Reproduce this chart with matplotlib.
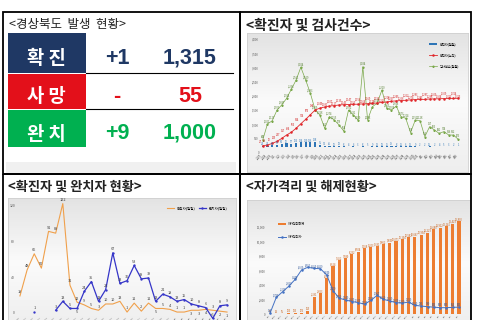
import numpy as np
import matplotlib
matplotlib.use('Agg')
from matplotlib import pyplot as plt
from matplotlib.patches import Rectangle
from matplotlib.colors import LinearSegmentedColormap

plt.rcParams['font.family'] = ['Noto Sans CJK KR', 'DejaVu Sans']

# ---- status table (top left)
status_names = ['확 진', '사 망', '완 치']
status_change = ['+1', '-', '+9']
status_total = ['1,315', '55', '1,000']
status_colors = ['#1f3864', '#e3101a', '#00b050']

# ---- dates
dates = ('2/27 2/28 2/29 3/1 3/2 3/3 3/4 3/5 3/6 3/7 3/8 3/9 3/10 3/11 3/12 3/13 '
         '3/14 3/15 3/16 3/17 3/18 3/19 3/20 3/21 3/22 3/23 3/24 3/25 3/26 3/27 '
         '3/28 3/29 3/30 3/31 4/1 4/2 4/3 4/4 4/5 4/6 4/7 4/8').split()

# ---- confirmed and tests (top right)
daily_tests = [445, 1012, 1127, 1503, 1687, 1914, 2236, 2561, 3014, 2569,
               2093, 1509, 1328, 861, 1274, 1155, 979, 764, 1502, 1331,
               1150, 3034, 1158, 1622, 1745, 2210, 1563, 1504, 1646, 1273,
               1214, 708, 1152, 1128, 566, 917, 803, 681, 744, 626,
               622, 473]
cum_confirmed = [27, 45, 90, 145, 227, 317, 394, 500, 624, 744,
                 870, 998, 1049, 1081, 1107, 1117, 1135, 1143, 1147, 1153,
                 1156, 1164, 1169, 1178, 1190, 1203, 1218, 1237, 1245, 1256,
                 1262, 1274, 1283, 1285, 1287, 1298, 1300, 1304, 1309, 1312,
                 1314, 1315]
daily_confirmed = [23, 22, 45, 55, 82, 90, 77, 106, 124, 120,
                   126, 128, 51, 32, 26, 10, 18, 8, 4, 6,
                   3, 8, 5, 9, 12, 13, 15, 19, 8, 11,
                   6, 12, 9, 2, 2, 11, 2, 4, 5, 3,
                   2, 1]

# ---- new vs recovered (bottom left)
daily_new = [19, 48, 66, 50, 91, 89, 122, 31, 12, 9,
             5, 3, 10, 10, 13, 1, 11, 2, 11, 5,
             5, 4, 1, 1, 3, 3, 4, 3, 2, 1]
daily_recovered = [np.nan, np.nan, 1, np.nan, np.nan, 3, 13, 5, 5, 24,
                   35, 13, 26, 67, 33, 36, 53, 38, 39, 13,
                   21, 18, 13, 15, 10, 8, 6, -6, 8, 9]

# ---- self quarantine (bottom right)
released = [53, 52, 56, 103, 133, 173, 365, 2391, 2853, 4917,
            6624, 7452, 7680, 8232, 8604, 9058, 9203, 9381, 9662, 9843,
            10071, 10304, 10582, 10667, 10954, 11223, 11680, 11912, 12141, 12423,
            12830]
quarantined = [315, 1780, 2300, 2820, 3440, 4300, 4553, 4450, 4420, 3840,
               2400, 1700, 1540, 1400, 1300, 1150, 1500, 1967, 1600, 1450,
               1300, 1250, 1350, 1050, 980, 920, 880, 830, 830, 860,
               880]

W, H = 480, 320
fig = plt.figure(figsize=(W / 100, H / 100), dpi=100)


def px_axes(x0, y0, x1, y1):
    return fig.add_axes([x0 / W, 1 - y1 / H, (x1 - x0) / W, (y1 - y0) / H])


bg_cmap = LinearSegmentedColormap.from_list('bg', ['#e3e3e3', '#fbfbfb', '#eeeeee'])
grad = np.linspace(0, 1, 64)[:, None]


def chart_box(x0, y0, x1, y1):
    b = px_axes(x0, y0, x1, y1)
    b.imshow(grad, aspect='auto', cmap=bg_cmap, extent=(0, 1, 0, 1))
    b.set_xticks([])
    b.set_yticks([])
    for s in b.spines.values():
        s.set_color('#cfcfcf')
        s.set_linewidth(0.6)


def clean(ax):
    ax.patch.set_alpha(0)
    for s in ax.spines.values():
        s.set_visible(False)
    ax.tick_params(length=0, labelsize=2, colors='#595959', pad=1)
    ax.tick_params(axis='x', labelsize=1.6, colors='#404040', pad=0.5)


# ================= top right =================
chart_box(247, 33, 468, 172)
ax = px_axes(260.3, 39.3, 460.6, 152.7)
x = np.arange(len(dates))
ax.set_xlim(-0.5, len(dates) - 0.5)
ax.set_ylim(0, 4000)
ax.set_yticks(range(0, 4001, 500))
ax.set_yticklabels(['{:,}'.format(v) for v in range(0, 4001, 500)])
ax.set_xticks(x)
ax.set_xticklabels(dates, rotation=45, ha='right')
clean(ax)
ax.tick_params(axis='x', labelsize=2.2, colors='#303030')
ax2 = ax.twinx()
ax2.set_ylim(-163, 2921)
ax2.set_yticks([])
clean(ax2)
b1 = ax2.bar(x, daily_confirmed, width=0.45, color='#2e75b6', label='확진자(일일)')
l1, = ax2.plot(x, cum_confirmed, color='#e0262a', lw=0.6, marker='o', ms=0.8, label='확진자(누적)')
l2, = ax.plot(x, daily_tests, color='#7aa84a', lw=0.5, marker='^', ms=0.9, label='검사건수(일일)')
for i in x:
    ax.text(i, daily_tests[i] + 70, '{:,}'.format(daily_tests[i]), fontsize=1.8, color='#4f7a2a', ha='center')
    if i < 12:
        ax2.text(i - 0.3, cum_confirmed[i] + 70, '{:,}'.format(cum_confirmed[i]), fontsize=1.8,
                 color='#d01818', ha='right')
    elif i % 2 == 0:
        ax2.text(i, cum_confirmed[i] + 110, '{:,}'.format(cum_confirmed[i]), fontsize=1.8,
                 color='#d01818', ha='center')
    else:
        ax2.text(i, cum_confirmed[i] + 40, '{:,}'.format(cum_confirmed[i]), fontsize=1.8,
                 color='#d01818', ha='center')
    ax2.text(i, daily_confirmed[i] + 15, str(daily_confirmed[i]), fontsize=1.8, color='#2e75b6', ha='center')
ax2.legend([b1, l1, l2], ['확진자(일일)', '확진자(누적)', '검사건수(일일)'], loc='upper left',
           bbox_to_anchor=(0.83, 1.0), fontsize=2.3, frameon=False, handlelength=2.5,
           labelspacing=2.2)

# ================= bottom left =================
chart_box(8, 198, 236, 326)
ax = px_axes(16.4, 200, 230.6, 316)
x = np.arange(len(daily_new))
ax.set_xlim(-0.5, len(daily_new) - 0.5)
ax.set_ylim(-3.4, 126)
ax.set_yticks([0, 40, 80, 120])
ax.set_xticks(x)
ax.set_xticklabels(dates[12:], rotation=45, ha='right')
clean(ax)
ax.tick_params(axis='y', labelsize=2.5)
ax.plot(x, daily_new, color='#f0a04b', lw=0.8, label='확진자(일일)', clip_on=False)
ax.plot(x, daily_recovered, color='#3535c8', lw=0.9, marker='o', ms=0.7, label='완치자(일일)',
        clip_on=False)
for i in x:
    rec = daily_recovered[i]
    close = (not np.isnan(rec)) and abs(rec - daily_new[i]) < 9
    if close and daily_new[i] <= rec:
        ax.text(i, daily_new[i] - 2, str(daily_new[i]), fontsize=2.8, color='#404040',
                ha='center', va='top')
    else:
        ax.text(i, daily_new[i] + 3, str(daily_new[i]), fontsize=2.8, color='#404040', ha='center')
    if not np.isnan(rec):
        if close and rec < daily_new[i]:
            ax.text(i, rec - 2, str(int(rec)), fontsize=2.8, color='#404040', ha='center', va='top')
        else:
            ax.text(i, rec + 3, str(int(rec)), fontsize=2.8, color='#404040', ha='center')
ax.legend(loc='upper right', bbox_to_anchor=(1.0, 0.97), ncol=2, fontsize=2.5,
          frameon=False, handlelength=2, columnspacing=1)

# ================= bottom right =================
chart_box(247, 200, 470, 326)
ax = px_axes(266.85, 215, 462.15, 314)
x = np.arange(len(released))
ax.set_xlim(-0.5, len(released) - 0.5)
ax.set_ylim(0, 13650)
ax.set_yticks(range(0, 12001, 2000))
ax.set_yticklabels(['{:,}'.format(v) for v in range(0, 12001, 2000)])
ax.set_xticks(x)
ax.set_xticklabels(dates[11:], rotation=45, ha='right')
clean(ax)
ax.bar(x, released, width=0.5, color='#ed7d31', label='자가격리해제')
ax2 = ax.twinx()
ax2.set_ylim(249, 9366)
ax2.set_yticks([])
clean(ax2)
ax2.plot(x, quarantined, color='#4472c4', lw=0.7, marker='o', ms=0.8, label='자가격리자')
for i in x:
    ax.text(i, released[i] + 150, '{:,}'.format(released[i]), fontsize=1.8, color='#c55a11', ha='center')
    ax2.text(i, quarantined[i] + 120, '{:,}'.format(quarantined[i]), fontsize=1.8, color='#2f5597', ha='center')
h1, lb1 = ax.get_legend_handles_labels()
h2, lb2 = ax2.get_legend_handles_labels()
ax2.legend(h1 + h2, lb1 + lb2, loc='upper left', bbox_to_anchor=(0.04, 0.96), fontsize=2.3,
           frameon=False, handlelength=2.5, labelspacing=2.8)

# ================= overlay: frames, titles, table =================
ov = fig.add_axes([0, 0, 1, 1])
ov.set_zorder(10)
ov.patch.set_visible(False)
ov.set_xlim(0, W)
ov.set_ylim(H, 0)
ov.axis('off')

ov.add_patch(Rectangle((6, 162), 230, 11, color='#f0f0f0', lw=0))
for (x0, y0, x1, y1) in [(3, 12, 240, 174), (240, 12, 470.5, 174),
                         (3, 174, 240, 330), (240, 174, 470.5, 330)]:
    ov.add_patch(Rectangle((x0, y0), x1 - x0, y1 - y0, fill=False, ec='black', lw=1.3))

ov.text(9, 28, '<경상북도  발생  현황>', fontsize=9, color='#222222', va='baseline')
ov.text(246, 30, '<확진자 및 검사건수>', fontsize=10, fontweight='bold', color='#222222', va='baseline')
ov.text(8, 191, '<확진자 및 완치자 현황>', fontsize=9.5, fontweight='bold', color='#222222', va='baseline')
ov.text(246, 191, '<자가격리 및 해제현황>', fontsize=9.5, fontweight='bold', color='#222222', va='baseline')

box_y = [(33, 72.7), (74, 108.5), (110, 147)]
base_y = [64, 102.5, 139.5]
for k in range(3):
    y0, y1 = box_y[k]
    ov.add_patch(Rectangle((8.3, y0), 77.7, y1 - y0, color=status_colors[k], lw=0))
    ov.text(46, base_y[k], status_names[k], color='white', fontsize=13.5, fontweight='bold',
            ha='center', va='baseline')
    ov.text(117, base_y[k] - 0.5, status_change[k], color=status_colors[k], fontsize=15.5,
            fontweight='bold', family='Liberation Sans', ha='center', va='baseline')
    ov.text(190, base_y[k] - 0.5, status_total[k], color=status_colors[k], fontsize=15.5,
            fontweight='bold', family='Liberation Sans', ha='center', va='baseline')
for yl in [73.3, 109.2]:
    ov.plot([86, 233], [yl, yl], color='black', lw=0.8)

fig.savefig('out.png', dpi=100)
